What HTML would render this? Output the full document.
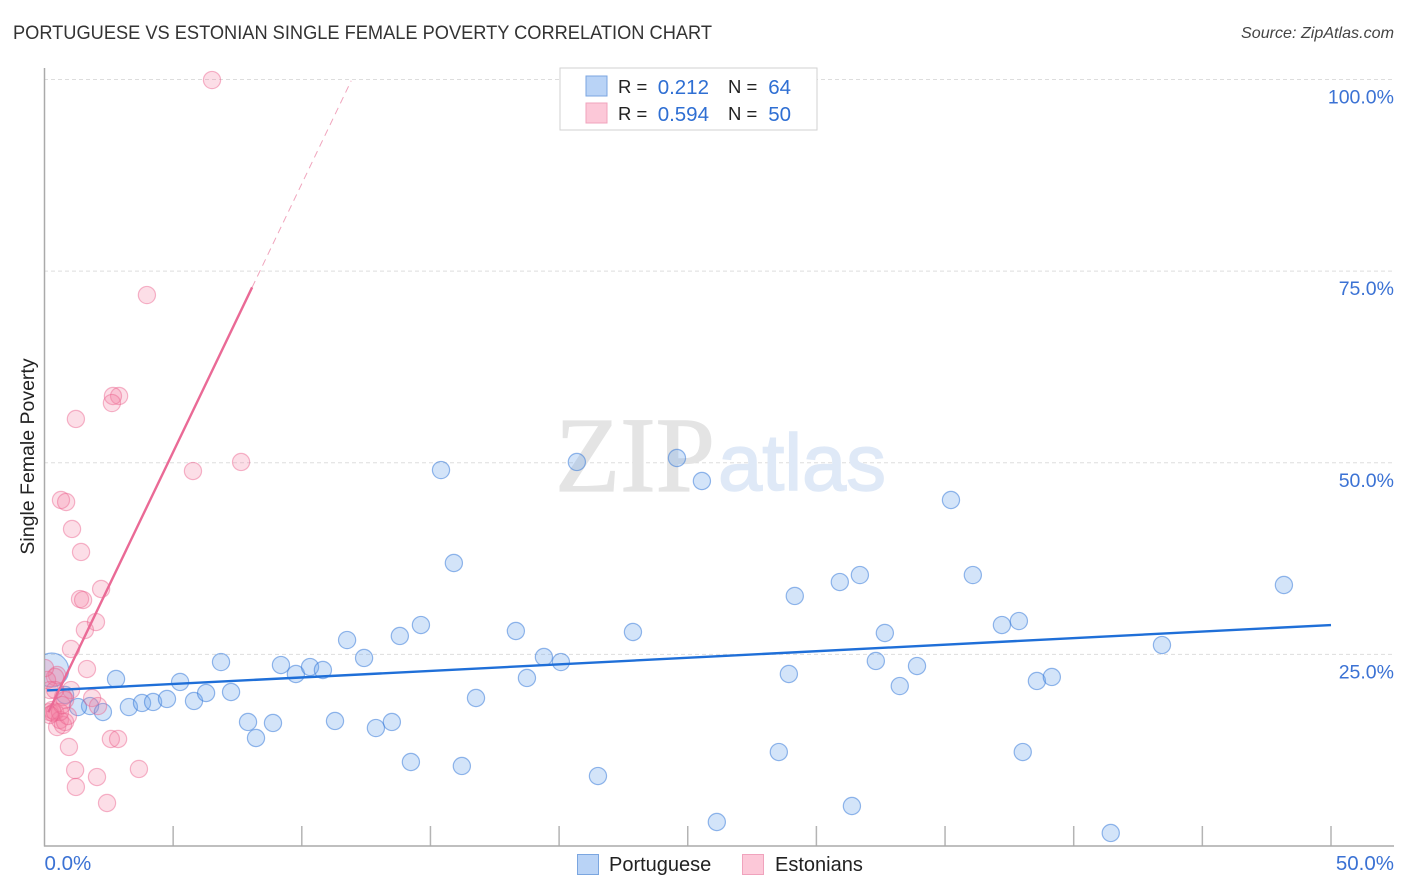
<!DOCTYPE html>
<html lang="en">
<head>
<meta charset="utf-8">
<title>Portuguese vs Estonian Single Female Poverty Correlation Chart</title>
<style>
html,body{margin:0;padding:0;background:#fff;}
svg{display:block;font-family:"Liberation Sans",sans-serif;}
</style>
</head>
<body>
<svg id="chart" xmlns="http://www.w3.org/2000/svg" width="1406" height="892" viewBox="0 0 1406 892">
  <rect x="0" y="0" width="1406" height="892" fill="#ffffff"/>
  <text x="13" y="39" font-size="19" fill="#333333" textLength="699" lengthAdjust="spacingAndGlyphs">PORTUGUESE VS ESTONIAN SINGLE FEMALE POVERTY CORRELATION CHART</text>
  <text x="1394" y="38" font-size="16" font-style="italic" fill="#444444" text-anchor="end" textLength="153" lengthAdjust="spacingAndGlyphs">Source: ZipAtlas.com</text>
  <g id="grid"></g>
  <g>
    <text x="555" y="491" font-family="'Liberation Serif',serif" font-size="107" fill="#e4e4e4" stroke="#e4e4e4" stroke-width="1.2" textLength="160" lengthAdjust="spacingAndGlyphs">ZIP</text>
    <text x="718" y="490" font-family="'Liberation Sans',sans-serif" font-size="80" fill="#dfe9f7" stroke="#dfe9f7" stroke-width="1.5" textLength="168" lengthAdjust="spacingAndGlyphs">atlas</text>
  </g>
  <g id="xticks"></g>
  <line x1="44.5" y1="68" x2="44.5" y2="846.5" stroke="#aaaaaa" stroke-width="1.5"/>
  <line x1="44" y1="846" x2="1394" y2="846" stroke="#aaaaaa" stroke-width="1.5"/>
  <defs>
    <clipPath id="plot-clip"><rect x="45" y="60" width="1360" height="800"/></clipPath>
  </defs>
  <g id="points" clip-path="url(#plot-clip)"></g>
  <g id="trends"></g>
  <g id="ylabels"></g>
  <g id="xlabels"></g>
  <text transform="translate(34,456.5) rotate(-90)" font-size="19.5" fill="#222222" text-anchor="middle">Single Female Poverty</text>

  <g>
    <rect x="560" y="68" width="257" height="62" fill="#ffffff" stroke="#d2d2d2" stroke-width="1"/>
    <rect x="586" y="76" width="21" height="20" fill="#b9d3f6" stroke="#7ba6e0" stroke-width="1"/>
    <rect x="586" y="103" width="21" height="20" fill="#fcc8d8" stroke="#f0a3bd" stroke-width="1"/>
    <text x="618" y="93" font-size="18.5" fill="#222222">R =</text>
    <text x="709" y="94" font-size="20.5" fill="#2f6fd3" text-anchor="end">0.212</text>
    <text x="728" y="93" font-size="18.5" fill="#222222">N =</text>
    <text x="791" y="94" font-size="20.5" fill="#2f6fd3" text-anchor="end">64</text>
    <text x="618" y="120" font-size="18.5" fill="#222222">R =</text>
    <text x="709" y="121" font-size="20.5" fill="#2f6fd3" text-anchor="end">0.594</text>
    <text x="728" y="120" font-size="18.5" fill="#222222">N =</text>
    <text x="791" y="121" font-size="20.5" fill="#2f6fd3" text-anchor="end">50</text>
  </g>

  <g>
    <rect x="577.5" y="854.5" width="21" height="20" fill="#b9d3f6" stroke="#7ba6e0" stroke-width="1"/>
    <text x="609" y="871" font-size="20" fill="#222222">Portuguese</text>
    <rect x="742.5" y="854.5" width="21" height="20" fill="#fcc8d8" stroke="#f0a3bd" stroke-width="1"/>
    <text x="775" y="871" font-size="20" fill="#222222">Estonians</text>
  </g>
</svg>
<script>
// Chart data (percent values)
const portugueseX = [0.28,2.78,3.28,3.79,4.22,4.76,5.27,5.81,6.28,7.25,6.86,7.91,8.22,8.88,9.19,9.77,10.32,10.82,11.29,11.76,12.42,12.88,13.50,13.81,14.24,14.63,15.41,15.91,16.22,16.77,18.32,18.75,19.41,20.07,20.69,21.51,22.87,24.58,25.55,26.13,28.54,28.93,29.16,30.91,31.38,31.69,32.31,32.66,33.24,33.91,35.23,36.08,37.21,37.87,38.02,38.57,39.15,41.44,43.43,48.17,1.77,2.27,1.30,0.80];
const portugueseY = [22.96,21.79,18.13,18.66,18.79,19.18,21.40,18.92,19.96,20.09,24.00,16.18,14.09,16.05,23.61,22.44,23.35,22.96,16.31,26.87,24.53,15.39,16.18,27.40,10.96,28.83,49.05,36.92,10.44,19.31,28.05,21.92,24.66,24.00,50.10,9.13,27.92,50.62,47.62,3.13,12.26,22.44,32.62,34.44,5.22,35.35,24.14,27.79,20.87,23.48,45.14,35.35,28.83,29.35,12.26,21.53,22.05,1.70,26.22,34.05,18.26,17.48,18.13,19.70];
const estoniansX = [6.51,3.98,2.90,2.66,2.62,1.22,5.77,7.64,0.64,0.84,1.07,1.42,1.38,1.50,2.20,2.00,1.57,1.03,1.65,0.49,0.41,1.03,1.85,2.08,0.72,0.80,2.58,2.86,0.95,1.19,2.04,1.22,2.43,3.67,0.21,0.29,0.33,0.41,0.49,0.60,0.72,0.80,0.91,0.60,0.10,0.02,0.21,0.41,0.68,0.21];
const estoniansY = [99.93,71.88,58.71,58.71,57.79,55.71,48.92,50.10,45.14,44.88,41.36,38.36,32.22,32.09,33.53,29.22,28.18,25.70,23.09,22.31,22.05,20.35,19.31,18.26,19.44,19.05,13.96,13.96,12.92,9.91,9.00,7.70,5.61,10.05,17.48,17.74,17.35,17.48,15.52,16.44,15.79,16.18,16.96,17.48,21.66,23.22,20.35,20.35,18.39,17.09];
const portugueseTrendStart = 0.1;
const portugueseTrendEnd = 50;
const portugueseIntercept = 20.28;
const portugueseSlope = 0.171;
const estoniansTrendStart = 0.15;
const estoniansSolidEnd = 8.07;
const estoniansDashedEnd = 11.92;
const estoniansIntercept = 16.4;
const estoniansSlope = 7.0;
const yTickValues = [25, 50, 75, 100];
const yTickLabels = ["25.0%", "50.0%", "75.0%", "100.0%"];
const xTickValues = [5, 10, 15, 20, 25, 30, 35, 40, 45, 50];
const xEndValues = [0, 50];
const xEndLabels = ["0.0%", "50.0%"];
const largePointIndex = 0;

// Axis functions
function xScale(v) { return 44.5 + v * 25.73; }
function yScale(v) { return 846 - v * 7.665; }

const NS = 'http://www.w3.org/2000/svg';
function make(tag, parent) {
  const el = document.createElementNS(NS, tag);
  parent.appendChild(el);
  return el;
}

const grid = document.getElementById('grid');
yTickValues.forEach(function (v) {
  const line = make('line', grid);
  
  
  line.setAttribute('x1', 44);
  line.setAttribute('x2', 1394);
  line.setAttribute('y1', yScale(v));
  line.setAttribute('y2', yScale(v));
  line.setAttribute('stroke', '#dddddd');
  line.setAttribute('stroke-width', '1');
  line.setAttribute('stroke-dasharray', '4 3');
});

const xticks = document.getElementById('xticks');
xTickValues.forEach(function (v) {
  const tick = make('line', xticks);
  
  
  tick.setAttribute('x1', xScale(v));
  tick.setAttribute('x2', xScale(v));
  tick.setAttribute('y1', 826);
  tick.setAttribute('y2', 846);
  tick.setAttribute('stroke', '#b4b4b4');
  tick.setAttribute('stroke-width', '1.5');
});

const points = document.getElementById('points');
portugueseX.forEach(function (xv, i) {
  const c = make('circle', points);
  
  
  c.setAttribute('cx', xScale(xv));
  c.setAttribute('cy', yScale(portugueseY[i]));
  c.setAttribute('r', i === largePointIndex ? 17 : 8.6);
  c.setAttribute('fill', 'rgba(110,165,235,0.3)');
  c.setAttribute('stroke', 'rgba(45,115,215,0.5)');
  c.setAttribute('stroke-width', '1.2');
});
estoniansX.forEach(function (xv, i) {
  const c = make('circle', points);
  
  
  c.setAttribute('cx', xScale(xv));
  c.setAttribute('cy', yScale(estoniansY[i]));
  c.setAttribute('r', 8.6);
  c.setAttribute('fill', 'rgba(245,125,160,0.25)');
  c.setAttribute('stroke', 'rgba(235,95,140,0.45)');
  c.setAttribute('stroke-width', '1.2');
});

const trends = document.getElementById('trends');
function portugueseTrend(x) { return portugueseIntercept + portugueseSlope * x; }
function estoniansTrend(x) { return estoniansIntercept + estoniansSlope * x; }

const blueLine = make('line', trends);


blueLine.setAttribute('x1', xScale(portugueseTrendStart));
blueLine.setAttribute('y1', yScale(portugueseTrend(portugueseTrendStart)));
blueLine.setAttribute('x2', xScale(portugueseTrendEnd));
blueLine.setAttribute('y2', yScale(portugueseTrend(portugueseTrendEnd)));
blueLine.setAttribute('stroke', '#1f6fd8');
blueLine.setAttribute('stroke-width', '2.4');

const pinkLine = make('line', trends);


pinkLine.setAttribute('x1', xScale(estoniansTrendStart));
pinkLine.setAttribute('y1', yScale(estoniansTrend(estoniansTrendStart)));
pinkLine.setAttribute('x2', xScale(estoniansSolidEnd));
pinkLine.setAttribute('y2', yScale(estoniansTrend(estoniansSolidEnd)));
pinkLine.setAttribute('stroke', '#ea6a96');
pinkLine.setAttribute('stroke-width', '2.4');

const pinkDash = make('line', trends);


pinkDash.setAttribute('x1', xScale(estoniansSolidEnd));
pinkDash.setAttribute('y1', yScale(estoniansTrend(estoniansSolidEnd)));
pinkDash.setAttribute('x2', xScale(estoniansDashedEnd));
pinkDash.setAttribute('y2', yScale(estoniansTrend(estoniansDashedEnd)));
pinkDash.setAttribute('stroke', '#f0a5bd');
pinkDash.setAttribute('stroke-width', '1');
pinkDash.setAttribute('stroke-dasharray', '7 5');

const ylabels = document.getElementById('ylabels');
yTickValues.forEach(function (v, i) {
  const t = make('text', ylabels);
  
  
  t.setAttribute('x', 1394);
  t.setAttribute('y', yScale(v) + 24);
  t.setAttribute('font-size', '19.5');
  t.setAttribute('fill', '#3b72d4');
  t.setAttribute('text-anchor', 'end');
  t.textContent = yTickLabels[i];
});

const xlabels = document.getElementById('xlabels');
xEndValues.forEach(function (v, i) {
  const t = make('text', xlabels);
  
  
  t.setAttribute('x', i === 0 ? xScale(v) : 1394);
  t.setAttribute('y', 870);
  t.setAttribute('font-size', '20.5');
  t.setAttribute('fill', '#3b72d4');
  t.setAttribute('text-anchor', i === 0 ? 'start' : 'end');
  t.textContent = xEndLabels[i];
});
</script>
</body>
</html>
